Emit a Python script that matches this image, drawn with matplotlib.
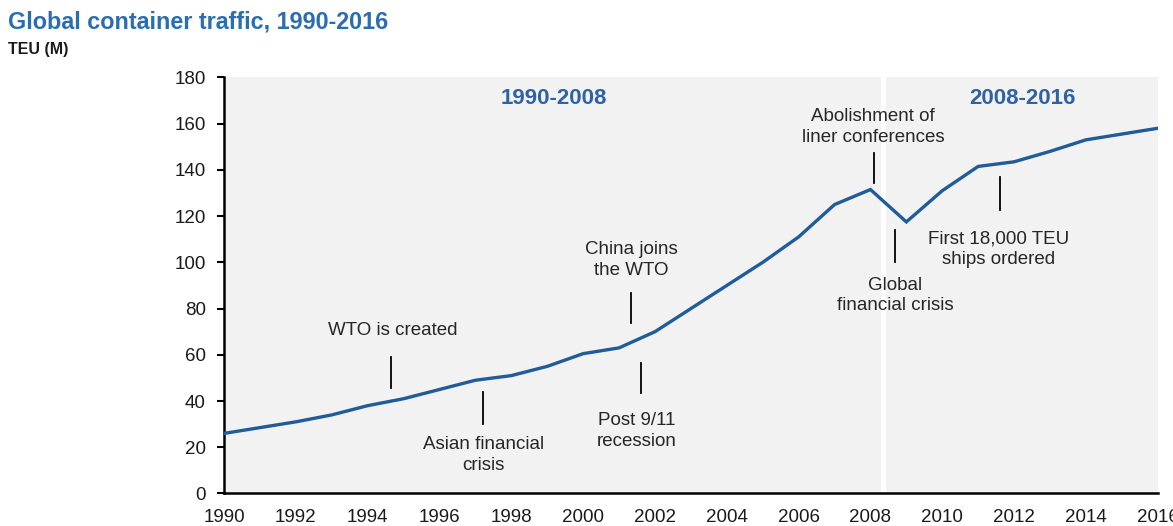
import matplotlib.pyplot as plt

# Global container traffic, million TEU
years = list(range(1990, 2017))
teu = [26, 28.5, 31, 34, 38, 41, 45, 49, 51, 55, 60.5, 63, 70, 80, 90, 100,
       111, 125, 131.5, 117.5, 131, 141.5, 143.5, 148, 153, 155.5, 158]

# Events: (label, marker year, marker from, marker to, text x, text y)
events = [
    ("WTO is created", 1994.66, 45.5, 59, 1994.7, 70.3),
    ("Asian financial\ncrisis", 1997.2, 30, 44, 1997.22, 16.6),
    ("China joins\nthe WTO", 2001.33, 73.7, 86.7, 2001.33, 101),
    ("Post 9/11\nrecession", 2001.6, 43.5, 56.4, 2001.5, 27),
    ("Abolishment of\nliner conferences", 2008.1, 134.2, 147.2, 2008.07, 158.5),
    ("Global\nfinancial crisis", 2008.69, 100, 114, 2008.69, 85.8),
    ("First 18,000 TEU\nships ordered", 2011.6, 122.6, 136.8, 2011.56, 105.7),
]

periods = ["1990-2008", "2008-2016"]
period_x = [1999.18, 2012.23]
split_year = 2008.35

plt.rcParams['font.family'] = ['Liberation Sans', 'DejaVu Sans']

fig = plt.figure(figsize=(11.73, 5.26), dpi=100)
ax = fig.add_axes([0.191, 0.0618, 0.796, 0.791])
ax.set_facecolor('#f2f2f2')

ax.axvline(split_year, color='white', lw=3.5, zorder=1)
ax.plot(years, teu, color='#1f5c99', lw=2.4, zorder=3, solid_joinstyle='miter')

for label, mx, y0, y1, tx, ty in events:
    ax.plot([mx, mx], [y0, y1], color='black', lw=1.3, zorder=2)
    ax.text(tx, ty, label, ha='center', va='center', fontsize=13.5,
            color='#262626', linespacing=1.25)

for label, px in zip(periods, period_x):
    ax.text(px, 171, label, ha='center', va='center', fontsize=16,
            fontweight='bold', color='#2f62a3')

ax.set_xlim(1990, 2016)
ax.set_ylim(0, 180)
ax.set_xticks(range(1990, 2017, 2))
ax.set_yticks(range(0, 181, 20))
ax.tick_params(axis='x', length=0, pad=11, labelsize=13.5, labelcolor='#1a1a1a')
ax.tick_params(axis='y', length=5, width=1.5, pad=8, labelsize=13.5, labelcolor='#1a1a1a')
for side in ['top', 'right']:
    ax.spines[side].set_visible(False)
for side in ['left', 'bottom']:
    ax.spines[side].set_linewidth(1.8)

fig.text(0.007, 0.958, "Global container traffic, 1990-2016", fontsize=16.8,
         fontweight='bold', color='#2a6db0', va='center', ha='left')
fig.text(0.007, 0.905, "TEU (M)", fontsize=11.5, fontweight='bold',
         color='#1a1a1a', va='center', ha='left')

plt.savefig('out.png', dpi=100)
